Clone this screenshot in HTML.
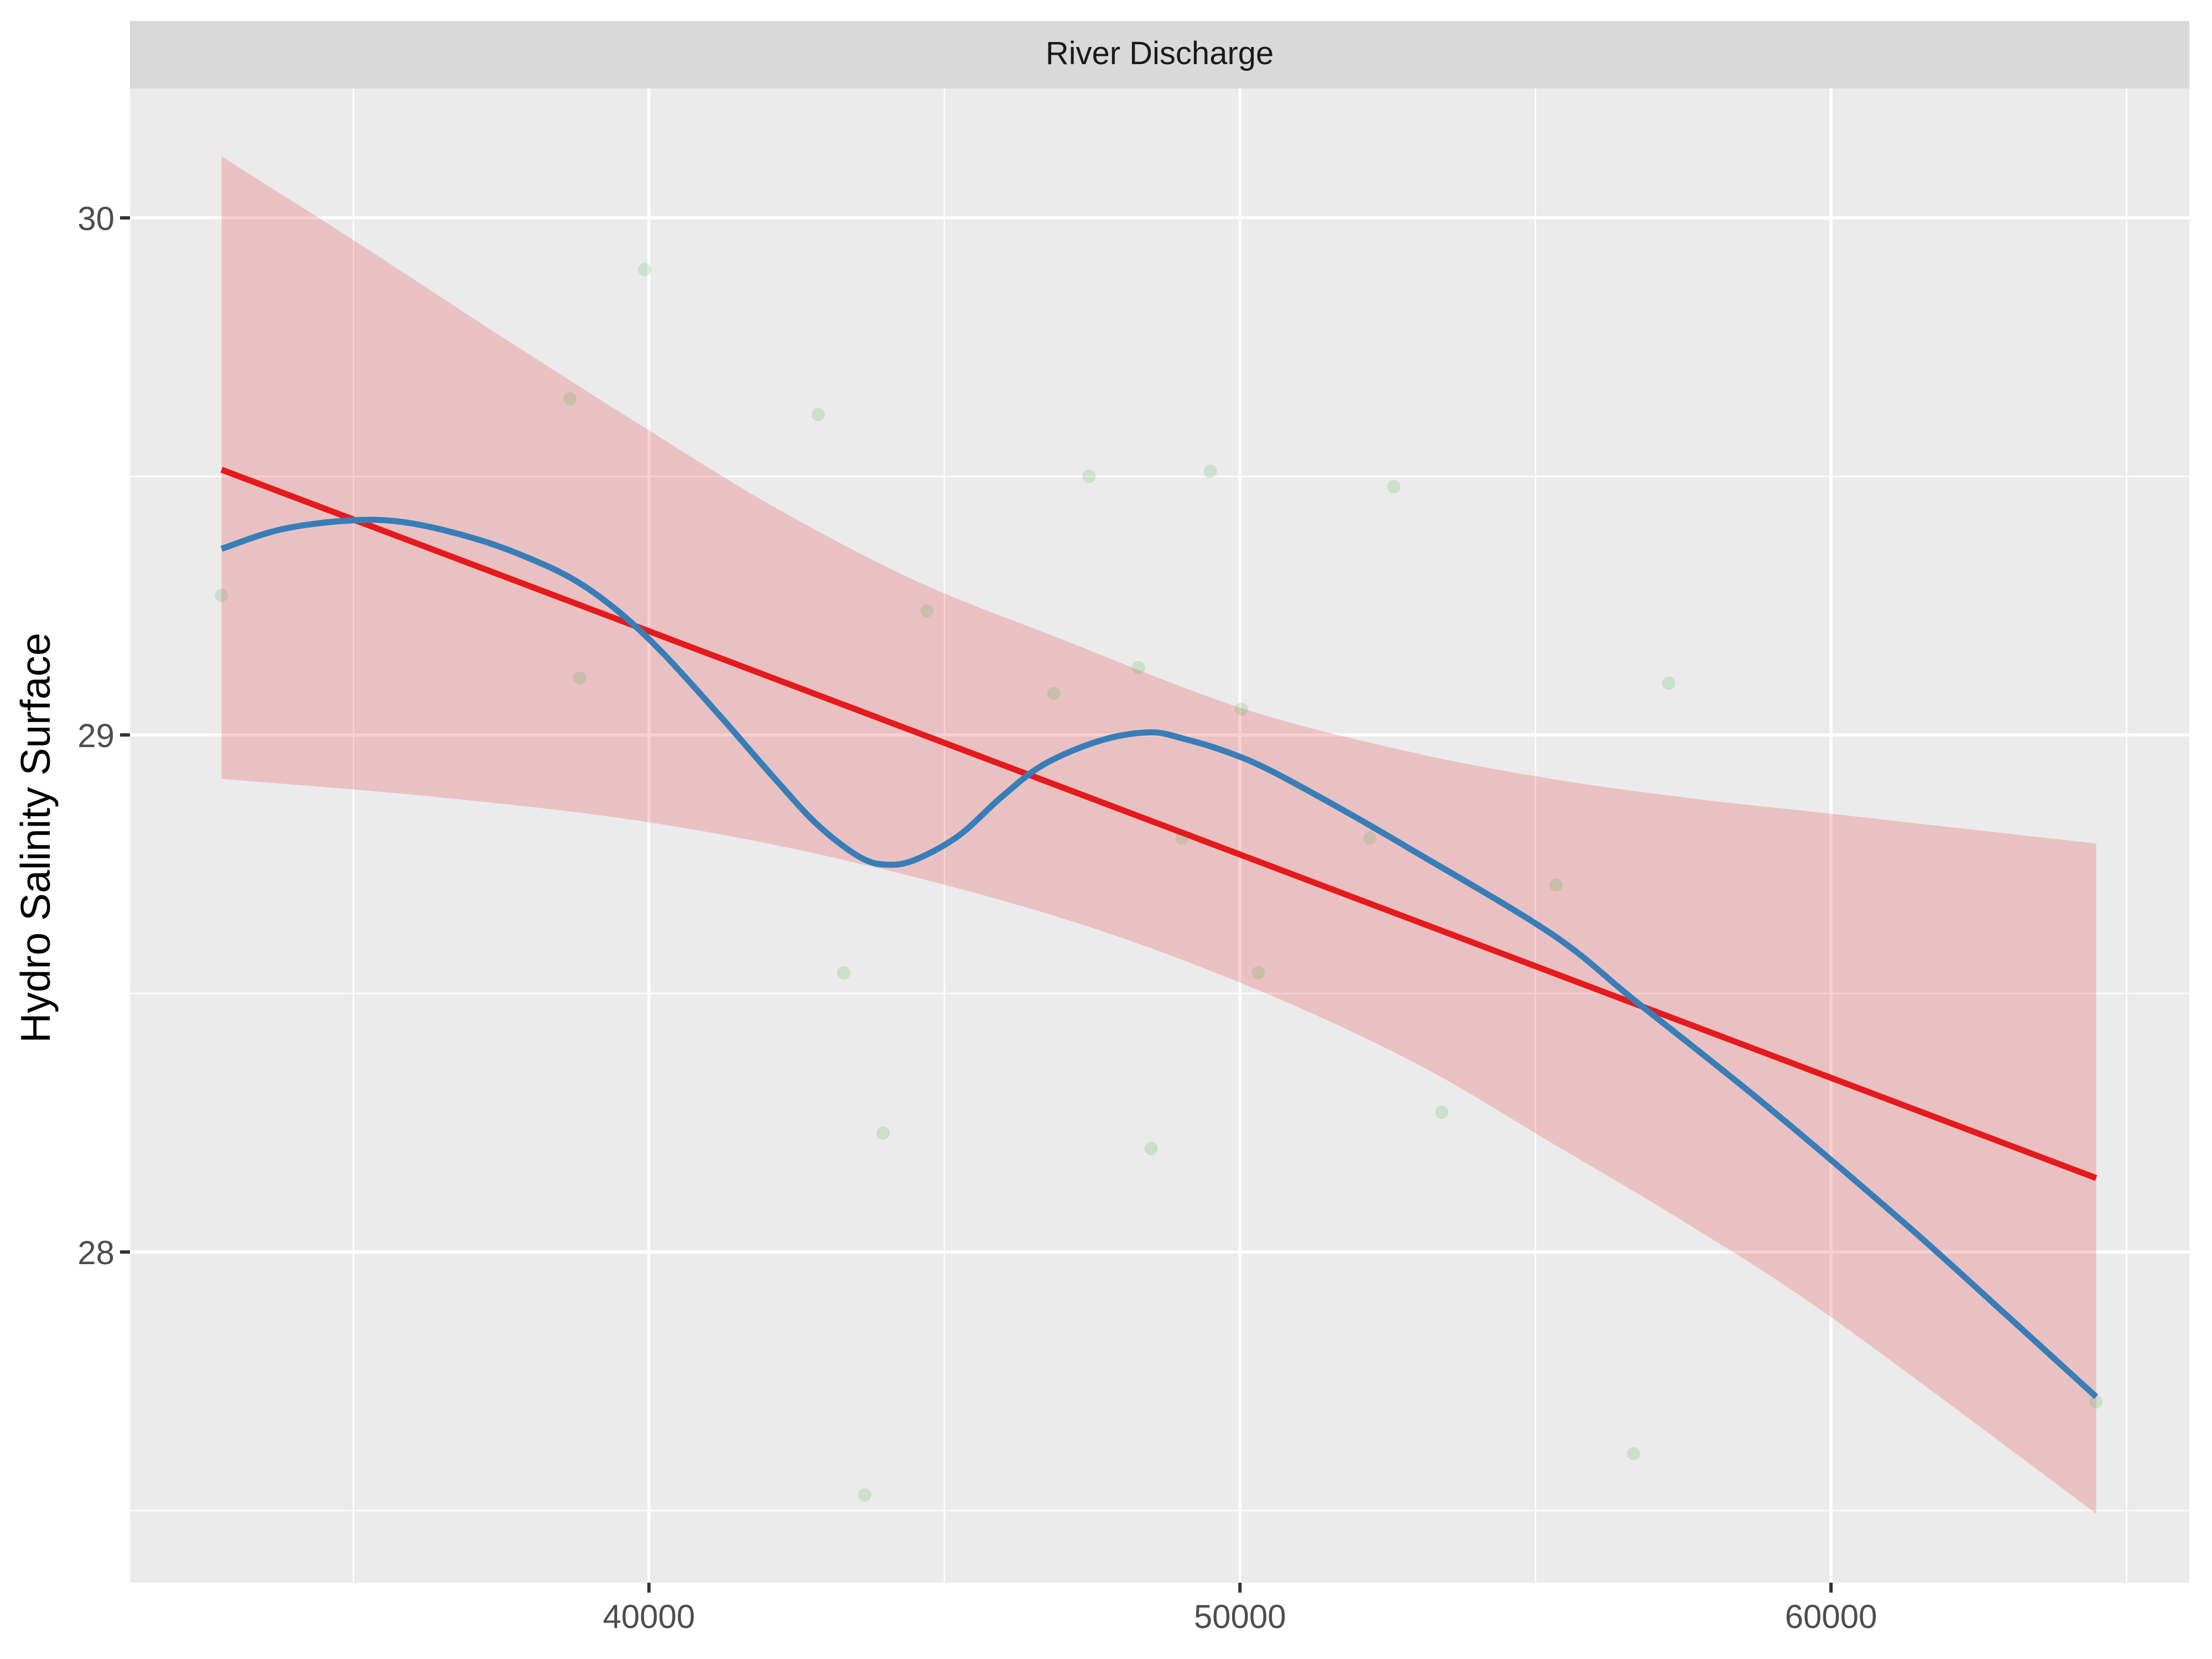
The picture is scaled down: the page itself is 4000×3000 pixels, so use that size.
<!DOCTYPE html>
<html><head><meta charset="utf-8"><style>
html,body{margin:0;padding:0;background:#fff;}
svg{display:block;font-family:"Liberation Sans",Arial,sans-serif;}
</style></head><body>
<svg id="chart" width="4000" height="3000" viewBox="0 0 4000 3000">
<rect x="0" y="0" width="4000" height="3000" fill="#fff"/>
<rect x="235" y="38" width="3724" height="122" fill="#d9d9d9"/>
<text x="2097" y="116" font-size="58" text-anchor="middle" fill="#1a1a1a">River Discharge</text>
<rect x="235" y="160" width="3724" height="2702" fill="#ebebeb"/>
<g id="grid"></g>
<g id="band"></g>
<g id="pts"></g>
<g id="lines"></g>
<g id="axes"></g>
<text transform="translate(90,1515) rotate(-90)" font-size="75" text-anchor="middle" fill="#000">Hydro Salinity Surface</text>
</svg>
<script>
const ptX=[32768,38663,38830,39928,42864,43294,43652,43962,44702,46850,47446,48282,48496,49021,49499,50024,50310,52196,52601,53413,55346,56659,57255,64487];
const ptY=[29.27,29.65,29.11,29.90,29.62,28.54,27.53,28.23,29.24,29.08,29.50,29.13,28.20,28.80,29.51,29.05,28.54,28.80,29.48,28.27,28.71,27.61,29.10,27.71];
const lmX=[32768,64487];
const lmY=[29.513,28.143];
const upX=[32768,34988,37375,40000,42148,44535,46921,50024,52888,55274,57661,60048,64487];
const upY=[30.119,29.958,29.780,29.589,29.439,29.297,29.188,29.052,28.967,28.915,28.877,28.847,28.790];
const loX=[32768,36400,40000,43340,46921,50024,52888,55274,57661,60048,64487];
const loY=[28.915,28.880,28.831,28.757,28.648,28.520,28.370,28.211,28.048,27.870,27.494];
const lsX=[32768,33795,34988,35943,37136,38091,38807,39523,40239,41193,42148,42864,43580,44057,44535,45251,45966,46682,47637,48472,49069,49785,50501,51694,52888,55274,56706,58854,61240,62911,64487];
const lsY=[29.360,29.398,29.415,29.410,29.377,29.336,29.295,29.235,29.158,29.038,28.913,28.825,28.763,28.749,28.760,28.806,28.880,28.943,28.989,29.005,28.992,28.967,28.932,28.858,28.779,28.615,28.484,28.288,28.056,27.884,27.720];
const xMajor=[40000,50000,60000];
const xMinor=[35000,45000,55000,65000];
const yMajor=[28,29,30];
const yMinor=[27.5,28.5,29.5];
const xLabels=["40000","50000","60000"];
const yLabels=["28","29","30"];

const NS="http://www.w3.org/2000/svg";
const L=235,R=3959,T=160,B=2862;
function sx(v){return 1173.5+(v-40000)*(3311-1173.5)/20000;}
function sy(v){return 1329+(29-v)*935;}
function mk(tag,attrs,parent){const e=document.createElementNS(NS,tag);for(const k in attrs)e.setAttribute(k,attrs[k]);parent.appendChild(e);return e;}
function smooth(P,start){
  let d=start?('M'+P[0][0]+','+P[0][1]):('L'+P[0][0]+','+P[0][1]);
  for(let i=0;i<P.length-1;i++){
    const p0=P[Math.max(i-1,0)],p1=P[i],p2=P[i+1],p3=P[Math.min(i+2,P.length-1)];
    const c1=[p1[0]+(p2[0]-p0[0])/6,p1[1]+(p2[1]-p0[1])/6];
    const c2=[p2[0]-(p3[0]-p1[0])/6,p2[1]-(p3[1]-p1[1])/6];
    d+='C'+c1[0]+','+c1[1]+' '+c2[0]+','+c2[1]+' '+p2[0]+','+p2[1];
  }
  return d;
}
const grid=document.getElementById('grid');
yMinor.forEach(v=>{const e=mk('line',{x1:L,x2:R,y1:sy(v),y2:sy(v),stroke:'#fff','stroke-width':2.5},grid);

});
xMinor.forEach(v=>{const e=mk('line',{x1:sx(v),x2:sx(v),y1:T,y2:B,stroke:'#fff','stroke-width':2.5},grid);

});
yMajor.forEach(v=>{const e=mk('line',{x1:L,x2:R,y1:sy(v),y2:sy(v),stroke:'#fff','stroke-width':5.5},grid);

});
xMajor.forEach(v=>{const e=mk('line',{x1:sx(v),x2:sx(v),y1:T,y2:B,stroke:'#fff','stroke-width':5.5},grid);

});

const upP=upX.map((x,i)=>[sx(x),sy(upY[i])]);
const loP=loX.map((x,i)=>[sx(x),sy(loY[i])]).reverse();
const d=smooth(upP,true)+smooth(loP,false)+'Z';
const band=mk('path',{d:d,fill:'#e41a1c','fill-opacity':0.2},document.getElementById('band'));



const pts=document.getElementById('pts');
ptX.forEach((x,i)=>{const c=mk('circle',{cx:sx(x),cy:sy(ptY[i]),r:12,fill:'#4daf4a','fill-opacity':0.2},pts);

});

const lines=document.getElementById('lines');
let dl='';lmX.forEach((x,i)=>{dl+=(i?'L':'M')+sx(x)+','+sy(lmY[i]);});
const lm=mk('path',{d:dl,fill:'none',stroke:'#e41a1c','stroke-width':11},lines);


const lsP=lsX.map((x,i)=>[sx(x),sy(lsY[i])]);
const ls=mk('path',{d:smooth(lsP,true),fill:'none',stroke:'#377eb8','stroke-width':11,'stroke-linejoin':'round'},lines);



const axes=document.getElementById('axes');
xMajor.forEach((v,i)=>{
const t=mk('line',{x1:sx(v),x2:sx(v),y1:B,y2:B+18,stroke:'#333','stroke-width':6},axes);


const tx=mk('text',{x:sx(v),y:B+82,'font-size':60,'text-anchor':'middle',fill:'#4d4d4d'},axes);
tx.textContent=xLabels[i];

});
yMajor.forEach((v,i)=>{
const t=mk('line',{x1:L-18,x2:L,y1:sy(v),y2:sy(v),stroke:'#333','stroke-width':6},axes);


const tx=mk('text',{x:L-28,y:sy(v)+22,'font-size':60,'text-anchor':'end',fill:'#4d4d4d'},axes);
tx.textContent=yLabels[i];

});
</script>
</body></html>
